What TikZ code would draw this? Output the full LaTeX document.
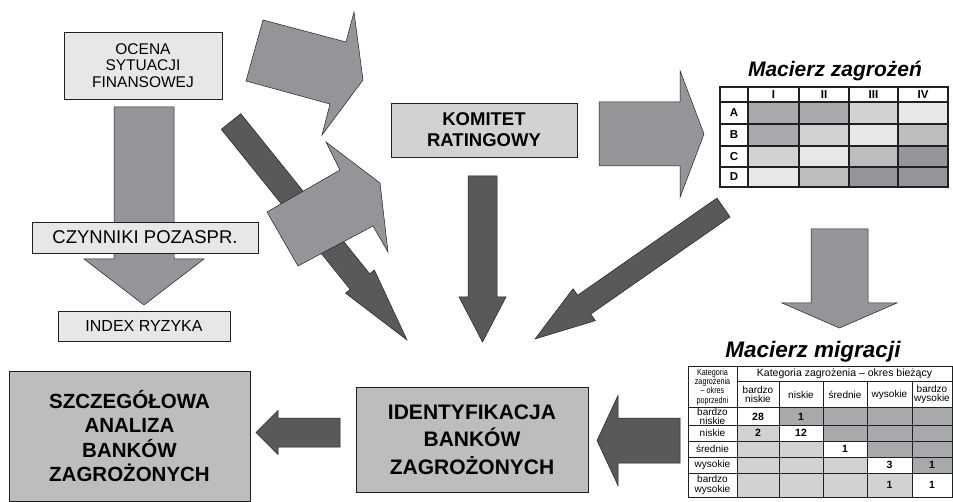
\documentclass[tikz,border=0pt]{standalone}
\usepackage{fontspec}
\setmainfont{Liberation Sans}
\newfontfamily\narrowfont[FakeStretch=0.8]{Liberation Sans}
\usetikzlibrary{calc}
\definecolor{arrgray}{HTML}{939598}
\definecolor{arrdark}{HTML}{58595B}
\definecolor{boxlight}{HTML}{E6E7E8}
\definecolor{boxmid}{HTML}{D1D2D4}
\definecolor{boxdark}{HTML}{BCBDBF}
\definecolor{cdark}{HTML}{A7A9AC}
\definecolor{cdarker}{HTML}{939598}
\definecolor{edge}{HTML}{231F20}
\newcommand\blockarrow[6]{%
  \coordinate (ba-hb) at ($#3!#6!#2$);
  \draw[#1] ($#2!#4!90:#3$) -- ($(ba-hb)!#4!90:#3$) -- ($(ba-hb)!#5!90:#3$) -- #3
    -- ($(ba-hb)!#5!-90:#3$) -- ($(ba-hb)!#4!-90:#3$) -- ($#2!#4!-90:#3$) -- cycle;
}
\begin{document}
\begin{tikzpicture}[x=1pt,y=-1pt,
  box/.style={draw=edge, line width=0.7pt, inner sep=0pt, align=center},
  grayarrow/.style={fill=arrgray, draw=edge, line width=0.5pt, line join=miter},
  darkarrow/.style={fill=arrdark, draw=edge, line width=0.5pt, line join=miter},
  tlabel/.style={inner sep=0pt, align=center, font=\fontsize{10}{9.6}\selectfont},
  tnum/.style={inner sep=0pt, font=\bfseries\fontsize{10.5}{10}\selectfont},
  mzlabel/.style={inner sep=0pt, font=\bfseries\fontsize{11.5}{12}\selectfont},
  title/.style={inner sep=0pt, font=\bfseries\itshape\fontsize{21}{22}\selectfont}]
\useasboundingbox (0,0) rectangle (953,502);
\fill[white] (0,0) rectangle (953,502);

% ---- arrows (drawn below boxes) ----
\coordinate (t-oc) at (144,107);   \coordinate (p-oc) at (144,305);
\blockarrow{grayarrow}{(t-oc)}{(p-oc)}{30pt}{60pt}{46pt}

\coordinate (t-d1) at (231,121.5); \coordinate (p-d1) at (407,340);
\blockarrow{darkarrow}{(t-d1)}{(p-d1)}{12.5pt}{18.5pt}{75pt}

\draw[grayarrow] (263,20) -- (346,42) -- (354,12) -- (363,80) -- (322,135) -- (330,104) -- (246,81) -- cycle;
\draw[grayarrow] (267,212) -- (340,170) -- (326,142) -- (380,183) -- (388,252) -- (373,226) -- (298,266) -- cycle;

\coordinate (t-kv) at (482.5,176); \coordinate (p-kv) at (482.5,342);
\blockarrow{darkarrow}{(t-kv)}{(p-kv)}{14.5pt}{23.5pt}{45pt}

\coordinate (t-km) at (599,134);   \coordinate (p-km) at (704,134);
\blockarrow{grayarrow}{(t-km)}{(p-km)}{32pt}{63.5pt}{24pt}

\coordinate (t-d2) at (723.5,207.5); \coordinate (p-d2) at (535,339);
\blockarrow{darkarrow}{(t-d2)}{(p-d2)}{11.5pt}{19.5pt}{60pt}

\coordinate (t-mm) at (839.5,229); \coordinate (p-mm) at (839.5,328);
\blockarrow{grayarrow}{(t-mm)}{(p-mm)}{28.5pt}{57.5pt}{25pt}

\coordinate (t-mi) at (680,440.5); \coordinate (p-mi) at (597,440.5);
\blockarrow{darkarrow}{(t-mi)}{(p-mi)}{22.5pt}{45pt}{21pt}

\coordinate (t-is) at (340,432.5); \coordinate (p-is) at (256,432.5);
\blockarrow{darkarrow}{(t-is)}{(p-is)}{14.5pt}{22pt}{22pt}

% ---- boxes ----
\node[box, fill=boxlight, minimum width=158pt, minimum height=67pt,
      font=\fontsize{15.5}{16.8}\selectfont] (ocena) at (143,65.5) {OCENA\\SYTUACJI\\FINANSOWEJ};
\node[box, fill=boxlight, minimum width=226pt, minimum height=31pt,
      font=\fontsize{18.5}{20}\selectfont] (czyn) at (145,237.5) {CZYNNIKI POZASPR.};
\node[box, fill=boxlight, minimum width=172pt, minimum height=30pt,
      font=\fontsize{16}{18}\selectfont] (index) at (144,326) {INDEX RYZYKA};
\node[box, fill=boxmid, minimum width=186pt, minimum height=54pt,
      font=\bfseries\fontsize{18.5}{21}\selectfont] (komitet) at (484,130) {KOMITET\\RATINGOWY};
\node[box, fill=boxdark, minimum width=232pt, minimum height=105pt,
      font=\bfseries\fontsize{21}{27.5}\selectfont] (ident) at (472,439.5) {IDENTYFIKACJA\\BANKÓW\\ZAGROŻONYCH};
\node[box, fill=boxdark, minimum width=241pt, minimum height=130pt,
      font=\bfseries\fontsize{20.5}{24.5}\selectfont] (szcz) at (129.5,436) {SZCZEGÓŁOWA\\ANALIZA\\BANKÓW\\ZAGROŻONYCH};

% ---- Macierz zagrożeń ----
\node[title] (mz-title) at (835,71) {Macierz zagrożeń};
\foreach \xa/\xb/\ya/\yb/\c in {
  748/799/102/124/cdark, 799/849/102/124/cdark, 849/898/102/124/boxmid, 898/948/102/124/boxlight,
  748/799/124/146/cdark, 799/849/124/146/boxmid, 849/898/124/146/boxlight, 898/948/124/146/boxdark,
  748/799/146/167/boxmid, 799/849/146/167/boxlight, 849/898/146/167/boxdark, 898/948/146/167/cdarker,
  748/799/167/187/boxlight, 799/849/167/187/boxdark, 849/898/167/187/cdarker, 898/948/167/187/cdarker}
  {\fill[\c] (\xa,\ya) rectangle (\xb,\yb);}
\draw[line width=1.1pt, edge] (720,87) rectangle (948,187);
\foreach \y in {102,124,146,167} \draw[line width=1.1pt, edge] (720,\y) -- (948,\y);
\foreach \x in {748,799,849,898} \draw[line width=1.1pt, edge] (\x,87) -- (\x,187);
\node[mzlabel] (mz-c1) at (773.5,95) {I};
\node[mzlabel] (mz-c2) at (824,95) {II};
\node[mzlabel] (mz-c3) at (873.5,95) {III};
\node[mzlabel] (mz-c4) at (923,95) {IV};
\node[mzlabel] (mz-ra) at (734,113) {A};
\node[mzlabel] (mz-rb) at (734,135) {B};
\node[mzlabel] (mz-rc) at (734,156.5) {C};
\node[mzlabel] (mz-rd) at (734,177) {D};

% ---- Macierz migracji ----
\node[title, font=\bfseries\itshape\fontsize{22.5}{23}\selectfont] (mm-title) at (813,352) {Macierz migracji};
\foreach \xa/\xb/\ya/\yb/\c in {
  779/823/407/425/cdark, 823/867/407/425/cdark, 867/912/407/425/cdark, 912/952/407/425/cdark,
  737/779/425/441/boxmid, 823/867/425/441/cdark, 867/912/425/441/cdark, 912/952/425/441/cdark,
  737/779/441/457/boxmid, 779/823/441/457/boxmid, 867/912/441/457/cdark, 912/952/441/457/cdark,
  737/779/457/473/boxmid, 779/823/457/473/boxmid, 823/867/457/473/boxmid, 912/952/457/473/cdark,
  737/779/473/497/boxmid, 779/823/473/497/boxmid, 823/867/473/497/boxmid, 867/912/473/497/boxmid}
  {\fill[\c] (\xa,\ya) rectangle (\xb,\yb);}
\draw[line width=0.8pt, edge] (688,366) rectangle (952,497);
\draw[line width=0.8pt, edge] (737,381) -- (952,381);
\foreach \y in {407,425,441,457,473} \draw[line width=0.8pt, edge] (688,\y) -- (952,\y);
\draw[line width=0.8pt, edge] (737,366) -- (737,497);
\foreach \x in {779,823,867,912} \draw[line width=0.8pt, edge] (\x,381) -- (\x,497);
\node[tlabel, font=\fontsize{10.5}{11}\selectfont] (mm-h) at (844.5,374) {Kategoria zagrożenia – okres bieżący};
\node[inner sep=0pt, align=center, font=\narrowfont\fontsize{9}{9.2}\selectfont] (mm-h0) at (712.5,387)
  {Kategoria\\zagrożenia\\– okres\\poprzedni};
\node[tlabel] (mm-c1) at (758,394.5) {bardzo\\niskie};
\node[tlabel] (mm-c2) at (801,394.5) {niskie};
\node[tlabel] (mm-c3) at (845,394.5) {średnie};
\node[tlabel] (mm-c4) at (889.5,394.5) {wysokie};
\node[tlabel] (mm-c5) at (932,394.5) {bardzo\\wysokie};
\node[tlabel] (mm-r1) at (712.5,416.5) {bardzo\\niskie};
\node[tlabel] (mm-r2) at (712.5,433) {niskie};
\node[tlabel] (mm-r3) at (712.5,449) {średnie};
\node[tlabel] (mm-r4) at (712.5,465) {wysokie};
\node[tlabel] (mm-r5) at (712.5,485) {bardzo\\wysokie};
\node[tnum] (n11) at (758,416.5) {28};
\node[tnum] (n12) at (801,416.5) {1};
\node[tnum] (n21) at (758,433) {2};
\node[tnum] (n22) at (801,433) {12};
\node[tnum] (n33) at (845,449) {1};
\node[tnum] (n44) at (889.5,465) {3};
\node[tnum] (n45) at (932,465) {1};
\node[tnum] (n54) at (889.5,485) {1};
\node[tnum] (n55) at (932,485) {1};
\end{tikzpicture}
\end{document}
